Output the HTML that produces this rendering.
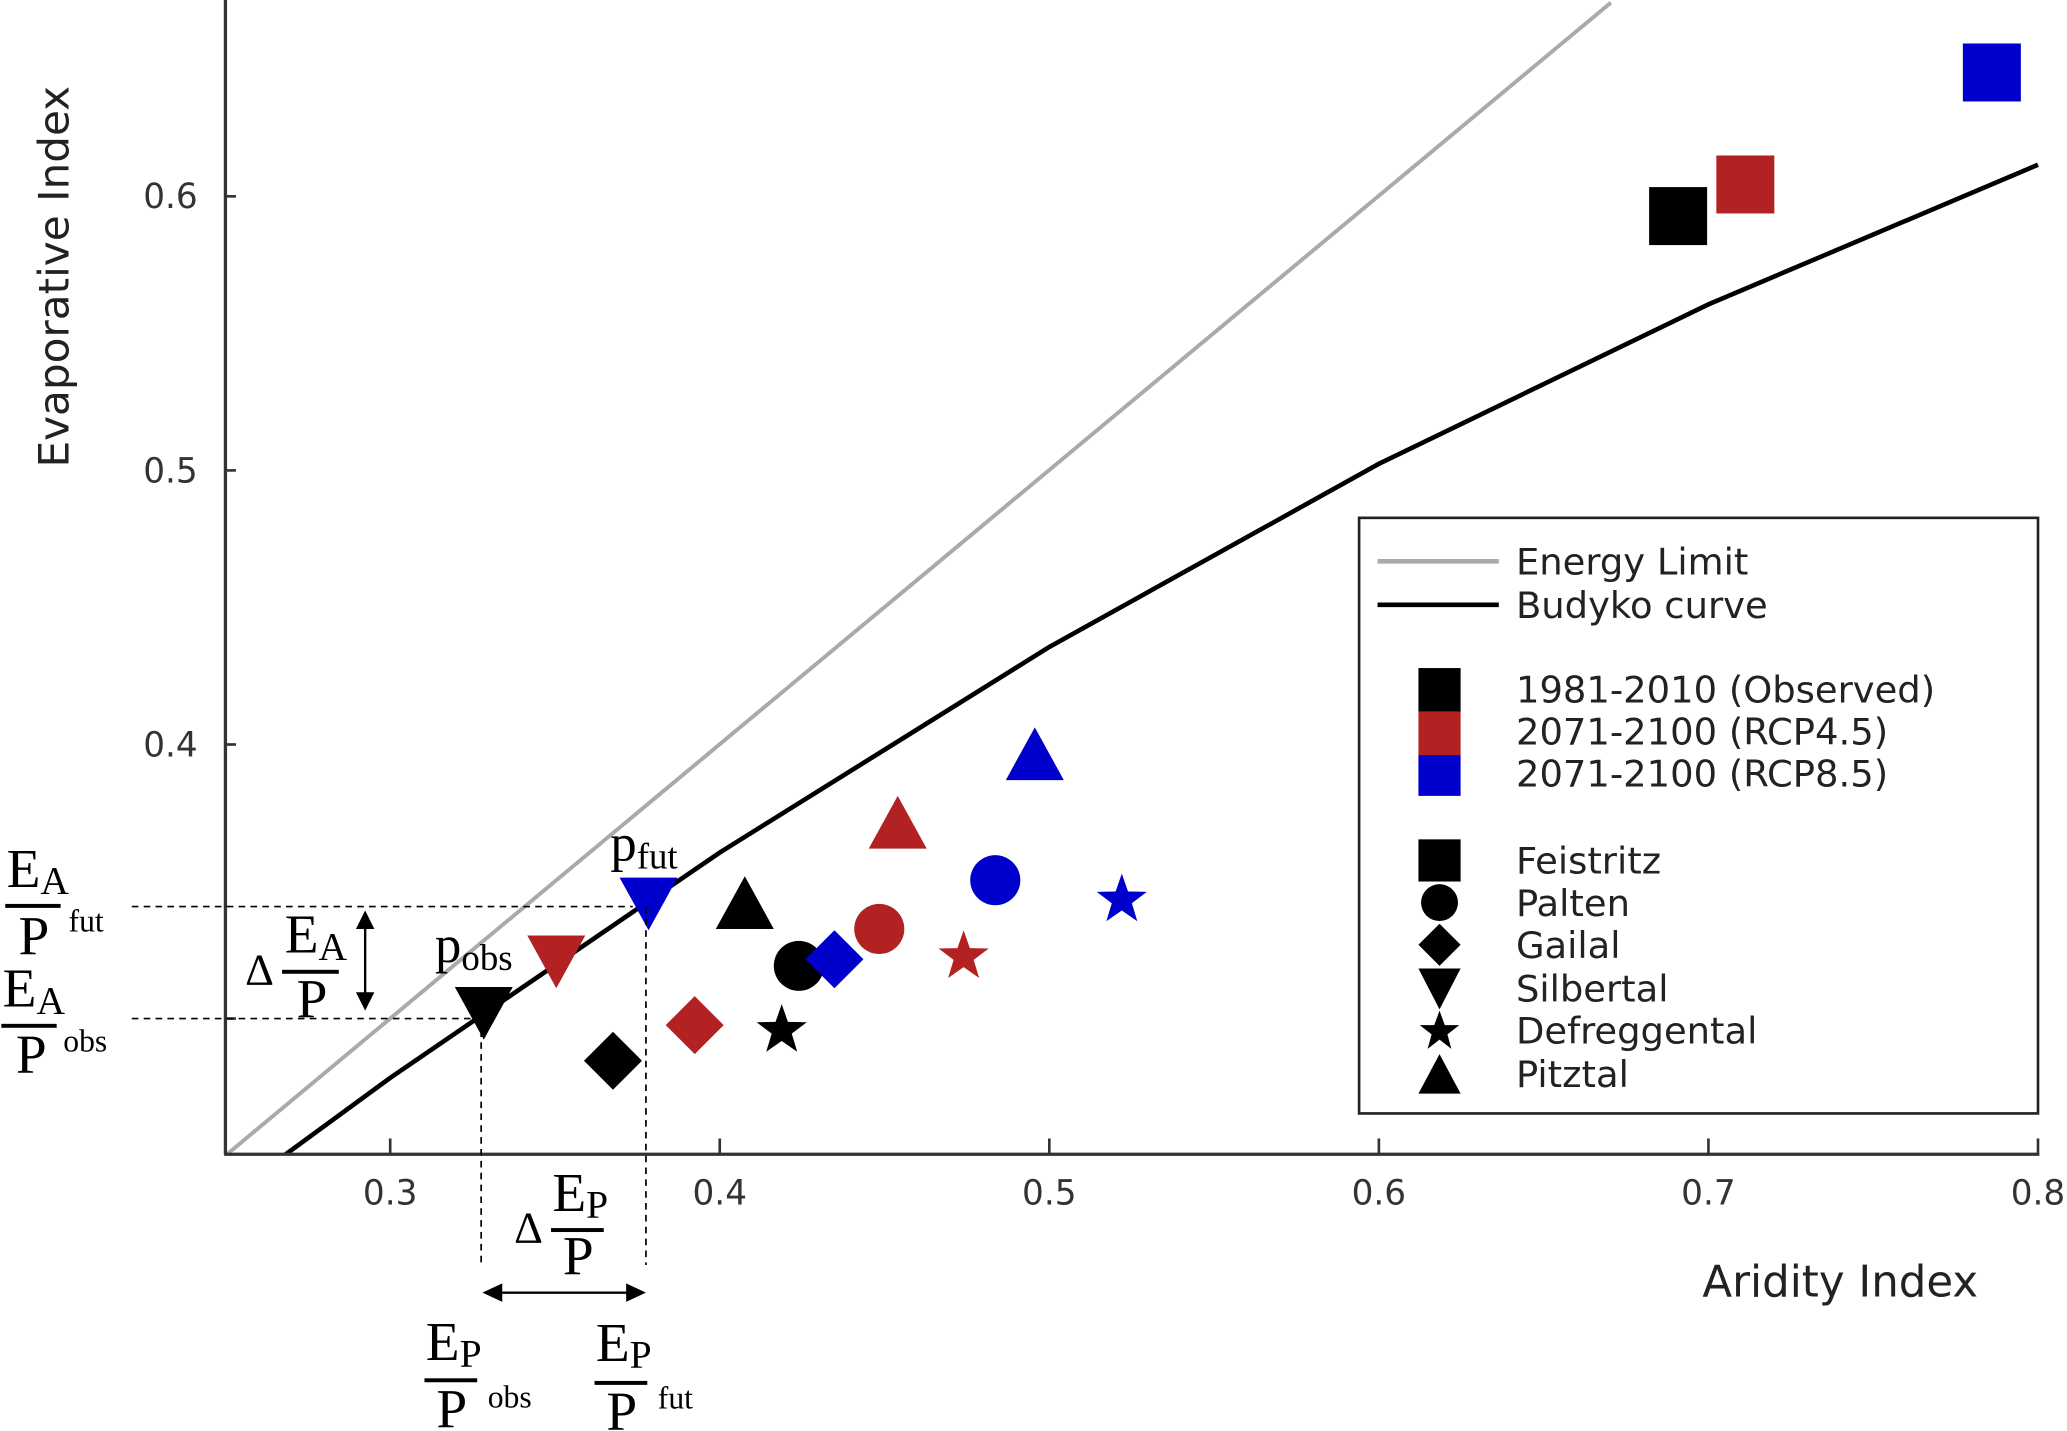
<!DOCTYPE html>
<html><head><meta charset="utf-8"><style>
html,body{margin:0;padding:0;background:#fff;}
svg{display:block}
.t{font-family:"DejaVu Sans","Liberation Sans",sans-serif;fill:#333}
.m{font-family:"Liberation Serif",serif;fill:#000}
</style></head><body>
<svg width="2067" height="1431" viewBox="0 0 1568 1086" preserveAspectRatio="none" xmlns="http://www.w3.org/2000/svg">
<defs>
<polygon id="star" points="0,-20 4.7,-6.47 19.02,-6.18 7.61,2.47 11.76,16.18 0,8 -11.76,16.18 -7.61,2.47 -19.02,-6.18 -4.7,-6.47"/>
<polygon id="tu" points="0,-21 22,19 -22,19"/>
<polygon id="td" points="-22,-18 22,-18 0,22"/>
<polygon id="dm" points="0,-22 22,0 0,22 -22,0"/>
<rect id="sq" x="-22" y="-22" width="44" height="44"/>
<clipPath id="cp"><rect x="171" y="0" width="1380" height="876"/></clipPath>
</defs>
<g clip-path="url(#cp)">
<line x1="171" y1="877" x2="1222" y2="2" stroke="#aaa" stroke-width="3"/>
<polyline points="46,1001 296,818 546,647 796,491 1046,352 1296,231 1546,125" fill="none" stroke="#000" stroke-width="3.5"/>
</g>
<line x1="171" y1="0" x2="171" y2="876" stroke="#333" stroke-width="2.5"/>
<line x1="170" y1="876" x2="1547" y2="876" stroke="#333" stroke-width="2.5"/>
<g stroke="#333" stroke-width="2">
<line x1="296" y1="876" x2="296" y2="864"/><line x1="546" y1="876" x2="546" y2="864"/>
<line x1="796" y1="876" x2="796" y2="864"/><line x1="1046" y1="876" x2="1046" y2="864"/>
<line x1="1296" y1="876" x2="1296" y2="864"/><line x1="1546" y1="876" x2="1546" y2="864"/>
<line x1="171" y1="149" x2="179" y2="149"/><line x1="171" y1="357" x2="179" y2="357"/>
<line x1="171" y1="565" x2="179" y2="565"/><line x1="171" y1="773" x2="179" y2="773"/>
</g>
<g class="t" font-size="26" text-anchor="middle">
<text x="296" y="914">0.3</text><text x="546" y="914">0.4</text><text x="796" y="914">0.5</text>
<text x="1046" y="914">0.6</text><text x="1296" y="914">0.7</text><text x="1546" y="914">0.8</text>
</g>
<g class="t" font-size="26" text-anchor="end">
<text x="150" y="158">0.6</text><text x="150" y="366">0.5</text><text x="150" y="574">0.4</text>
</g>
<text class="t" font-size="32" transform="translate(52,210) rotate(-90)" text-anchor="middle" style="fill:#222">Evaporative Index</text>
<text class="t" font-size="33" x="1396" y="984" text-anchor="middle" style="fill:#222">Aridity Index</text>
<g fill="#000"><use href="#sq" x="1273" y="164"/><use href="#tu" x="565" y="686"/><circle cx="606" cy="733" r="19"/><use href="#dm" x="465" y="805"/><use href="#td" x="367" y="767"/><use href="#star" x="593" y="782"/></g>
<g fill="#b22222"><use href="#sq" x="1324" y="140"/><use href="#tu" x="681" y="625"/><circle cx="667" cy="705" r="19"/><use href="#dm" x="527" y="778"/><use href="#td" x="422" y="728"/><use href="#star" x="731" y="726"/></g>
<g fill="#0000cc"><use href="#sq" x="1511" y="55"/><use href="#tu" x="785" y="573"/><circle cx="755" cy="668" r="19"/><use href="#dm" x="633" y="728"/><use href="#td" x="492" y="684"/><use href="#star" x="851" y="683"/></g>
<g stroke="#000" stroke-width="1.3" stroke-dasharray="5,4" fill="none">
<line x1="100" y1="688" x2="480" y2="688"/><line x1="100" y1="773" x2="362" y2="773"/>
<line x1="365" y1="773" x2="365" y2="960"/><line x1="490" y1="688" x2="490" y2="960"/>
</g>
<g stroke="#000" stroke-width="1.8"><line x1="277" y1="700" x2="277" y2="758"/><line x1="380" y1="981" x2="476" y2="981"/></g>
<g fill="#000"><polygon points="277,691 270,705 284,705"/><polygon points="277,767 270,753 284,753"/>
<polygon points="366,981 381,974 381,988"/><polygon points="490,981 475,974 475,988"/></g>
<g class="m">
<text x="5" y="673" font-size="42">E<tspan font-size="30" dy="5">A</tspan></text><rect x="4" y="686" width="42" height="3"/><text x="14" y="724" font-size="42">P</text><text x="52" y="707" font-size="24">fut</text>
<text x="2" y="764" font-size="42">E<tspan font-size="30" dy="5">A</tspan></text><rect x="1" y="777" width="42" height="3"/><text x="12" y="814" font-size="42">P</text><text x="48" y="798" font-size="24">obs</text>
<text x="186" y="747" font-size="34">Δ</text><text x="216" y="723" font-size="42">E<tspan font-size="30" dy="5">A</tspan></text><rect x="214" y="736" width="43" height="3"/><text x="225" y="772" font-size="42">P</text>
<text x="330" y="730" font-size="40">p<tspan font-size="28" dy="6">obs</tspan></text>
<text x="463" y="653" font-size="40">p<tspan font-size="28" dy="6">fut</tspan></text>
<text x="390" y="943" font-size="34">Δ</text><text x="419" y="919" font-size="42">E<tspan font-size="30" dy="5">P</tspan></text><rect x="418" y="932" width="40" height="3"/><text x="427" y="967" font-size="42">P</text>
<text x="323" y="1032" font-size="42">E<tspan font-size="30" dy="5">P</tspan></text><rect x="322" y="1046" width="40" height="3"/><text x="331" y="1083" font-size="42">P</text><text x="370" y="1068" font-size="24">obs</text>
<text x="452" y="1033" font-size="42">E<tspan font-size="30" dy="5">P</tspan></text><rect x="451" y="1048" width="40" height="3"/><text x="460" y="1085" font-size="42">P</text><text x="499" y="1069" font-size="24">fut</text>
</g>
<rect x="1031" y="393" width="515" height="452" fill="#fff" stroke="#222" stroke-width="2"/>
<line x1="1045" y1="426" x2="1137" y2="426" stroke="#aaa" stroke-width="3.5"/>
<line x1="1045" y1="459" x2="1137" y2="459" stroke="#000" stroke-width="3.5"/>
<rect x="1076" y="507" width="32" height="33" fill="#000"/>
<rect x="1076" y="540" width="32" height="33" fill="#b22222"/>
<rect x="1076" y="573" width="32" height="31" fill="#0000cc"/>
<g fill="#000">
<rect x="1076" y="637" width="32" height="32"/>
<circle cx="1092" cy="685" r="14"/>
<polygon points="1092,701 1108,717 1092,733 1076,717"/>
<polygon points="1076,735 1108,735 1092,766"/>
<polygon points="1092,767 1096,778 1107,778 1098,785 1101,796 1092,789 1083,796 1086,785 1077,778 1088,778"/>
<polygon points="1092,800 1108,830 1076,830"/>
</g>
<g class="t" font-size="28" style="fill:#222">
<text x="1150" y="436">Energy Limit</text>
<text x="1150" y="469">Budyko curve</text>
<text x="1150" y="533">1981-2010 (Observed)</text>
<text x="1150" y="565">2071-2100 (RCP4.5)</text>
<text x="1150" y="597">2071-2100 (RCP8.5)</text>
<text x="1150" y="663">Feistritz</text>
<text x="1150" y="695">Palten</text>
<text x="1150" y="727">Gailal</text>
<text x="1150" y="760">Silbertal</text>
<text x="1150" y="792">Defreggental</text>
<text x="1150" y="825">Pitztal</text>
</g>
</svg>
</body></html>
